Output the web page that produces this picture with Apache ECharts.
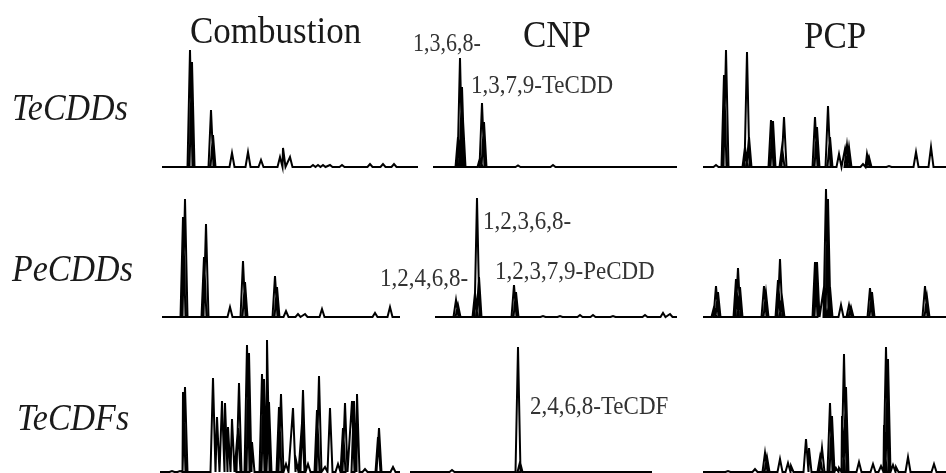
<!DOCTYPE html>
<html>
<head>
<meta charset="utf-8">
<script src="https://cdn.jsdelivr.net/npm/echarts@6/dist/echarts.min.js"></script>
<style>
  html, body { margin: 0; padding: 0; background: #fff; }
  #main { width: 946px; height: 473px; }
</style>
</head>
<body>
<div id="main"></div>
<script>
// chromatograms: peak retention positions and heights, one pair of arrays per panel
var columns = ['Combustion', 'CNP', 'PCP'];
var rows = ['TeCDDs', 'PeCDDs', 'TeCDFs'];

// TeCDDs
var teCddCombRange = [2, 258];
var teCddCombPos = [30, 32, 51, 53, 72, 88, 101, 120, 123, 130, 153, 158, 163, 170, 182, 210, 223, 234];
var teCddCombHt = [117, 105, 57, 32, 14, 15, 7, 10, 19, 10, 2, 2, 2, 2, 2, 3, 3, 3];
var teCddCnpRange = [23, 276];
var teCddCnpPos = [48, 50, 52, 53, 70, 72, 74, 108, 143];
var teCddCnpHt = [30, 109, 80, 47, 9, 64, 45, 1.5, 2];
var teCddPcpRange = [27, 270];
var teCddPcpPos = [28, 40, 48, 50, 69, 71, 73, 95, 97, 106, 108, 139, 141, 152, 154, 163, 169, 171, 173, 187, 191, 193, 213, 240, 255];
var teCddPcpHt = [2, 2, 92, 117, 20, 115, 30, 47, 46, 20, 50, 50, 40, 61, 30, 13, 18, 22, 20, 3, 13, 10, 1, 15, 20];

// PeCDDs
var peCddCombRange = [2, 240];
var peCddCombPos = [23, 25, 44, 46, 70, 83, 85, 115, 117, 126, 138, 145, 162, 215, 230];
var peCddCombHt = [100, 118, 60, 93, 10, 56, 35, 41, 30, 6, 3, 3, 8, 4, 10];
var peCddCnpRange = [25, 278];
var peCddCnpPos = [46, 48, 65, 67, 69, 104, 106, 133, 150, 170, 183, 203, 235, 253, 260, 270];
var peCddCnpHt = [17, 12, 24, 119, 40, 32, 25, 1, 1, 2, 2, 1, 2, 4, 3, 2];
var peCddPcpRange = [27, 270];
var peCddPcpPos = [38, 40, 42, 60, 62, 64, 88, 90, 102, 104, 106, 139, 141, 148, 150, 152, 154, 165, 173, 175, 194, 196, 249, 251];
var peCddPcpHt = [10, 31, 25, 38, 49, 30, 31, 24, 37, 58, 20, 55, 55, 30, 128, 118, 30, 12, 12, 10, 29, 25, 31, 20];

// TeCDFs
var teCdfCombRange = [0, 240];
var teCdfCombPos = [12, 20, 23, 25, 53, 57, 62, 65, 68, 72, 78, 79, 87, 89, 92, 102, 104, 107, 109, 119, 121, 126, 133, 136, 142, 143, 148, 157, 159, 165, 170, 178, 183, 185, 192, 194, 197, 205, 218, 219, 233];
var teCdfCombHt = [1, 1, 80, 85, 94, 55, 71, 69, 45, 53, 44, 89, 127, 119, 30, 98, 93, 132, 70, 65, 78, 8, 64, 12, 49, 82, 8, 62, 96, 5, 64, 8, 44, 69, 71, 71, 78, 3, 35, 44, 5];
var teCdfCnpRange = [0, 242];
var teCdfCnpPos = [42, 108, 110];
var teCdfCnpHt = [2, 125, 10];
var teCdfPcpRange = [27, 270];
var teCdfPcpPos = [52, 79, 89, 91, 104, 112, 115, 130, 133, 144, 146, 154, 156, 160, 163, 166, 168, 170, 183, 197, 205, 208, 210, 212, 217, 220, 232, 258];
var teCdfPcpHt = [1, 3, 19, 15, 13, 9, 6, 33, 24, 15, 24, 69, 56, 4, 4, 56, 118, 85, 10, 8, 6, 47, 125, 113, 7, 5, 15, 8];

// peak labels
var peakLabels = ['1,3,6,8-', '1,3,7,9-TeCDD', '1,2,3,6,8-', '1,2,4,6,8-', '1,2,3,7,9-PeCDD', '2,4,6,8-TeCDF'];

var panels = [
  [teCddCombRange, teCddCombPos, teCddCombHt], [teCddCnpRange, teCddCnpPos, teCddCnpHt], [teCddPcpRange, teCddPcpPos, teCddPcpHt],
  [peCddCombRange, peCddCombPos, peCddCombHt], [peCddCnpRange, peCddCnpPos, peCddCnpHt], [peCddPcpRange, peCddPcpPos, peCddPcpHt],
  [teCdfCombRange, teCdfCombPos, teCdfCombHt], [teCdfCnpRange, teCdfCnpPos, teCdfCnpHt], [teCdfPcpRange, teCdfPcpPos, teCdfPcpHt]
];

// layout
var colLeft = [160, 410, 676];
var colWidth = [260, 266, 270];
var rowBase = [167, 317, 472];
var panelH = 140;
var halfW = 2.5;

function trace(range, pos, ht) {
  var d = [[range[0], 0]];
  for (var i = 0; i < pos.length; i++) {
    d.push([pos[i] - halfW, 0]);
    d.push([pos[i], ht[i]]);
    d.push([pos[i] + halfW, 0]);
  }
  d.push([range[1], 0]);
  return d;
}

var grids = [], xAxes = [], yAxes = [], series = [];
for (var r = 0; r < 3; r++) {
  for (var c = 0; c < 3; c++) {
    var k = r * 3 + c;
    grids.push({ left: colLeft[c], top: rowBase[r] - panelH, width: colWidth[c], height: panelH });
    xAxes.push({ type: 'value', gridIndex: k, min: 0, max: colWidth[c], show: false });
    yAxes.push({ type: 'value', gridIndex: k, min: 0, max: panelH, show: false });
    series.push({
      type: 'line',
      xAxisIndex: k,
      yAxisIndex: k,
      data: trace(panels[k][0], panels[k][1], panels[k][2]),
      showSymbol: false,
      clip: false,
      silent: true,
      lineStyle: { color: '#000', width: 2, join: 'miter' }
    });
  }
}

function txt(s, x, y, size, italic, color) {
  return {
    type: 'text', x: x, y: y, scaleY: 1.1, silent: true,
    style: {
      text: s, fill: color || '#1a1a1a',
      font: (italic ? 'italic ' : '') + size + 'px "Liberation Serif", "DejaVu Serif", serif',
      textAlign: 'left', textVerticalAlign: 'middle'
    }
  };
}

var graphics = [
  txt(columns[0], 190, 33, 35), txt(columns[1], 523, 37, 35), txt(columns[2], 804, 38, 35),
  txt(rows[0], 12, 110, 34, true), txt(rows[1], 12, 271, 34, true), txt(rows[2], 17, 420, 34, true),
  txt(peakLabels[0], 413, 45, 22, false, '#333'),
  txt(peakLabels[1], 471, 86, 23, false, '#333'),
  txt(peakLabels[2], 483, 222, 23, false, '#333'),
  txt(peakLabels[3], 380, 279, 23, false, '#333'),
  txt(peakLabels[4], 495, 272, 23, false, '#333'),
  txt(peakLabels[5], 530, 407, 23, false, '#333')
];

var chart = echarts.init(document.getElementById('main'), null, { renderer: 'canvas' });
chart.setOption({
  animation: false,
  backgroundColor: '#fff',
  grid: grids,
  xAxis: xAxes,
  yAxis: yAxes,
  series: series,
  graphic: graphics
});
</script>
</body>
</html>
